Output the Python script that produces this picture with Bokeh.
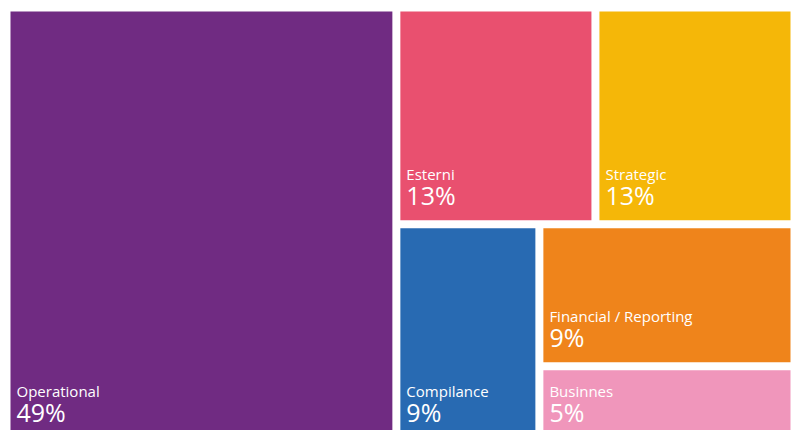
from bokeh.plotting import figure
from bokeh.models import Range1d, ColumnDataSource
from bokeh.core.properties import value
from bokeh.embed import file_html
from bokeh.resources import INLINE

# ---- data (sizes estimated from tile areas, labels as printed) ----
categories = ["Operational", "Esterni", "Strategic", "Compilance", "Financial / Reporting", "Businnes"]
sizes = [49.5, 12.65, 12.65, 9.07, 10.62, 5.56]
pct_labels = ["49%", "13%", "13%", "9%", "9%", "5%"]
colors = ["#702B82", "#E9506F", "#F5B708", "#286AB2", "#EF841B", "#F096BB"]

# ---- binary-split treemap layout (alternating direction by depth) ----
def layout(vals, idx, x0, y0, x1, y1, depth, out):
    if len(idx) == 1:
        out[idx[0]] = (x0, y0, x1, y1)
        return
    total = sum(vals[i] for i in idx)
    best_k, best_d, acc = 1, None, 0.0
    for k in range(1, len(idx)):
        acc += vals[idx[k - 1]]
        d = abs(acc - (total - acc))
        if best_d is None or d < best_d:
            best_d, best_k = d, k
    a, b = idx[:best_k], idx[best_k:]
    fa = sum(vals[i] for i in a) / total
    if depth % 2 == 0:
        xm = x0 + (x1 - x0) * fa
        layout(vals, a, x0, y0, xm, y1, depth + 1, out)
        layout(vals, b, xm, y0, x1, y1, depth + 1, out)
    else:
        ym = y0 + (y1 - y0) * fa
        layout(vals, a, x0, y0, x1, ym, depth + 1, out)
        layout(vals, b, x0, ym, x1, y1, depth + 1, out)

rects = {}
layout(sizes, list(range(len(sizes))), 6, 7, 794, 440, 0, rects)
pad = 4
left = [rects[i][0] + pad for i in range(len(sizes))]
top = [rects[i][1] + pad for i in range(len(sizes))]
right = [rects[i][2] - pad for i in range(len(sizes))]
bottom = [rects[i][3] - pad for i in range(len(sizes))]

src = ColumnDataSource(dict(
    left=left, right=right, top=top, bottom=bottom, color=colors,
    name=categories, pct=pct_labels,
    tx=[l + 6 for l in left],
    ny=[b - 46 for b in bottom],
    py=[b - 25 for b in bottom],
))

p = figure(width=795, height=430, output_backend="svg", toolbar_location=None,
           x_range=Range1d(0, 795), y_range=Range1d(430, 0),
           min_border=0, outline_line_color=None)
p.axis.visible = False
p.grid.visible = False
p.background_fill_color = "white"
p.border_fill_color = "white"

p.quad(left="left", right="right", top="top", bottom="bottom", fill_color="color",
       line_color=None, source=src)
p.text(x="tx", y="ny", text="name", source=src, text_color="white",
       text_font=value("Open Sans"), text_font_size="15px", text_baseline="alphabetic")
p.text(x="tx", y="py", text="pct", source=src, text_color="white",
       text_font=value("Open Sans"), text_font_size="25px", text_baseline="alphabetic")

open("out.html", "w").write(file_html(p, INLINE))
